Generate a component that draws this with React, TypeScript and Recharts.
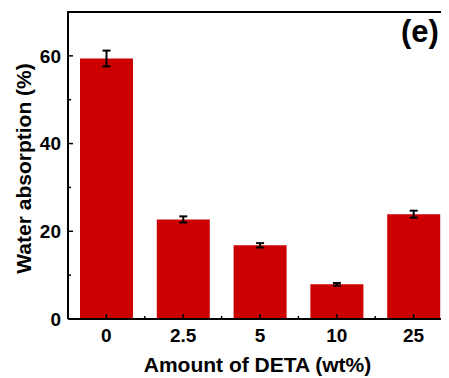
import React from 'react';
import { BarChart, Bar, XAxis, YAxis, ErrorBar, ReferenceLine } from 'recharts';

const amounts = ['0', '2.5', '5', '10', '25'];
const absorption = [59.4, 22.7, 16.8, 7.9, 23.9];
const absorptionErr = [1.8, 0.7, 0.5, 0.3, 0.8];
const yTicks = [0, 10, 20, 30, 40, 50, 60];

const W = 450;
const H = 370;
const MARGIN = { top: 4, right: 6, left: 0, bottom: 0 };
const Y_AXIS_W = 60;
const X_AXIS_H = 59;
const PLOT_LEFT = MARGIN.left + Y_AXIS_W;
const PLOT_BOTTOM = H - MARGIN.bottom - X_AXIS_H;
const BAND = (W - MARGIN.right - PLOT_LEFT) / amounts.length;

const FONT = '"Liberation Sans", Arial, sans-serif';

const data = amounts.map((a, i) => ({ amount: a, value: absorption[i], err: absorptionErr[i] }));

const YTick = (props: any) => {
  const { y, payload } = props;
  const major = payload.value % 20 === 0;
  return (
    <g>
      <line x1={PLOT_LEFT} x2={PLOT_LEFT + (major ? 5 : 3)} y1={y} y2={y} stroke="#000" strokeWidth={1.5} />
      {major && (
        <text x={PLOT_LEFT - 7} y={y} dy="0.36em" textAnchor="end" fontFamily={FONT} fontWeight="bold" fontSize={19} fill="#000">
          {payload.value}
        </text>
      )}
    </g>
  );
};

const XTick = (props: any) => {
  const { x, payload, index } = props;
  return (
    <g>
      <line x1={x} x2={x} y1={PLOT_BOTTOM} y2={PLOT_BOTTOM - 5} stroke="#000" strokeWidth={1.5} />
      {index < amounts.length - 1 && (
        <line x1={x + BAND / 2} x2={x + BAND / 2} y1={PLOT_BOTTOM} y2={PLOT_BOTTOM - 3} stroke="#000" strokeWidth={1.5} />
      )}
      <text x={x} y={PLOT_BOTTOM + 22.5} textAnchor="middle" fontFamily={FONT} fontWeight="bold" fontSize={19} fill="#000">
        {payload.value}
      </text>
    </g>
  );
};

const XTitle = () => (
  <g>
    <text x={249.5} y={363.5} textAnchor="middle" fontFamily={FONT} fontWeight="bold" fontSize={21} fill="#000">
      Amount of DETA (wt%)
    </text>
    <text x={412} y={34} textAnchor="middle" fontFamily={FONT} fontWeight="bold" fontSize={31} fill="#000">
      (e)
    </text>
  </g>
);

const YTitle = () => (
  <text x={23} y={160.5} transform="rotate(-90 23 160.5)" textAnchor="middle" fontFamily={FONT} fontWeight="bold" fontSize={21} fill="#000">
    Water absorption (%)
  </text>
);

export default function App() {
  return (
    <div style={{ position: 'relative', width: 441, height: 370, overflow: 'hidden' }}>
      <BarChart width={W} height={H} data={data} margin={MARGIN}>
        <XAxis
          dataKey="amount"
          height={X_AXIS_H}
          axisLine={{ stroke: '#000', strokeWidth: 2 }}
          tickLine={false}
          tick={<XTick />}
          interval={0}
          label={<XTitle />}
        />
        <YAxis
          width={Y_AXIS_W}
          domain={[0, 70]}
          ticks={yTicks}
          interval={0}
          axisLine={{ stroke: '#000', strokeWidth: 2 }}
          tickLine={false}
          tick={<YTick />}
          label={<YTitle />}
        />
        {/* top edge of the frame */}
        <ReferenceLine y={70} stroke="#000" strokeWidth={2} ifOverflow="visible" />
        <Bar dataKey="value" fill="#cc0000" barSize={53} isAnimationActive={false}>
          <ErrorBar dataKey="err" width={4} strokeWidth={2} stroke="#000" />
        </Bar>
      </BarChart>
      <div
        style={{
          position: 'absolute',
          top: MARGIN.top - 1,
          left: PLOT_LEFT - 1,
          width: W,
          height: 0,
          borderTop: '2px solid #000',
        }}
      />
    </div>
  );
}
